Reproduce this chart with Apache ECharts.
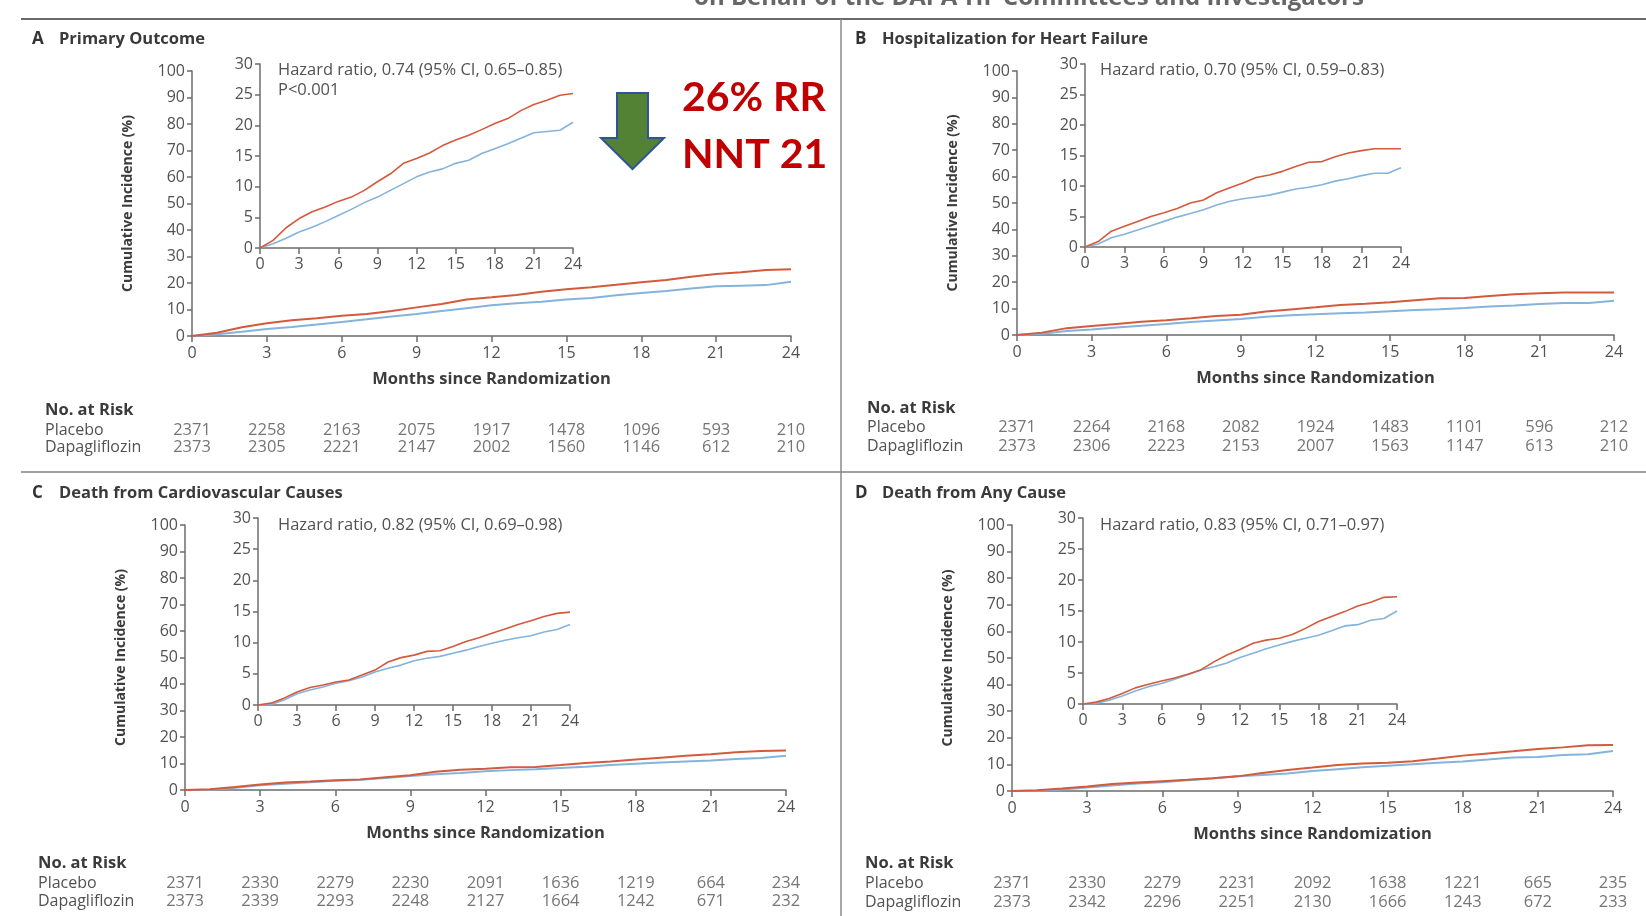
<!DOCTYPE html>
<html>
<head>
<meta charset="utf-8">
<script src="https://cdn.jsdelivr.net/npm/echarts@6/dist/echarts.min.js"></script>
<style>
  html, body { margin: 0; padding: 0; background: #ffffff; }
  #chart { width: 1646px; height: 916px; }
</style>
</head>
<body>
<div id="chart"></div>
<script>
// ---- Data ---------------------------------------------------------------
const months = [0,1,2,3,4,5,6,7,8,9,10,11,12,13,14,15,16,17,18,19,20,21,22,23,24];

// Cumulative incidence (%) by month
const placeboA = [0,1.25,3.3,4.8,5.9,6.7,7.6,8.3,9.4,10.8,12.1,13.8,14.6,15.5,16.7,17.6,18.4,19.3,20.3,21.1,22.4,23.4,24.1,24.9,25.2];
const dapaA    = [0,0.7,1.6,2.6,3.4,4.3,5.3,6.3,7.4,8.3,9.4,10.5,11.6,12.4,12.9,13.8,14.3,15.4,16.2,17.0,17.9,18.8,19.0,19.2,20.5];
const placeboB = [0,0.9,2.6,3.4,4.2,5.0,5.6,6.3,7.2,7.7,8.9,9.7,10.5,11.4,11.8,12.4,13.2,13.9,14.0,14.8,15.4,15.8,16.1,16.1,16.1];
const dapaB    = [0,0.5,1.5,2.1,2.8,3.5,4.2,4.9,5.5,6.1,6.9,7.5,7.9,8.2,8.5,9.0,9.5,9.8,10.2,10.8,11.2,11.7,12.1,12.1,13.0];
const placeboC = [0,0.3,1.1,2.1,2.8,3.2,3.7,4.0,4.8,5.6,6.9,7.6,8.0,8.6,8.7,9.4,10.2,10.8,11.5,12.2,12.9,13.5,14.2,14.7,14.9];
const dapaC    = [0,0.1,0.8,1.8,2.4,2.9,3.5,3.9,4.5,5.3,5.9,6.4,7.1,7.5,7.8,8.3,8.8,9.4,9.9,10.4,10.8,11.1,11.7,12.1,12.9];
const placeboD = [0,0.3,0.9,1.7,2.6,3.2,3.7,4.2,4.8,5.5,6.8,7.9,8.8,9.8,10.3,10.6,11.2,12.2,13.3,14.1,14.9,15.8,16.4,17.2,17.3];
const dapaD    = [0,0.1,0.6,1.3,2.1,2.8,3.3,4.0,4.7,5.5,6.0,6.6,7.5,8.2,8.9,9.5,10.1,10.6,11.1,11.8,12.6,12.8,13.5,13.8,15.0];

// Number at risk, every 3 months
const riskMonths = [0,3,6,9,12,15,18,21,24];
const riskPlaceboA = [2371,2258,2163,2075,1917,1478,1096,593,210];
const riskDapaA    = [2373,2305,2221,2147,2002,1560,1146,612,210];
const riskPlaceboB = [2371,2264,2168,2082,1924,1483,1101,596,212];
const riskDapaB    = [2373,2306,2223,2153,2007,1563,1147,613,210];
const riskPlaceboC = [2371,2330,2279,2230,2091,1636,1219,664,234];
const riskDapaC    = [2373,2339,2293,2248,2127,1664,1242,671,232];
const riskPlaceboD = [2371,2330,2279,2231,2092,1638,1221,665,235];
const riskDapaD    = [2373,2342,2296,2251,2130,1666,1243,672,233];

const groups = ['Placebo', 'Dapagliflozin'];
const letters = ['A', 'B', 'C', 'D'];
const titles = ['Primary Outcome', 'Hospitalization for Heart Failure',
                'Death from Cardiovascular Causes', 'Death from Any Cause'];
const hrTexts = [
  'Hazard ratio, 0.74 (95% CI, 0.65\u20130.85)\nP<0.001',
  'Hazard ratio, 0.70 (95% CI, 0.59\u20130.83)',
  'Hazard ratio, 0.82 (95% CI, 0.69\u20130.98)',
  'Hazard ratio, 0.83 (95% CI, 0.71\u20130.97)'
];
const headerText = 'on Behalf of the DAPA-HF Committees and Investigators';
const callout = ['26% RR', 'NNT 21'];

const placeboSeries = [placeboA, placeboB, placeboC, placeboD];
const dapaSeries = [dapaA, dapaB, dapaC, dapaD];
const riskPlacebo = [riskPlaceboA, riskPlaceboB, riskPlaceboC, riskPlaceboD];
const riskDapa = [riskDapaA, riskDapaB, riskDapaC, riskDapaD];

// ---- Layout ---------------------------------------------------------------
const layout = [
  { main: {left: 192, top: 71, width: 599, height: 265},
    inset: {left: 260, top: 64, width: 313, height: 184},
    risk: {top: 421.5, height: 34}, rowLabelX: 45,
    letterX: 32, titleX: 59, headY: 39, noRiskY: 410, hrX: 278, hrY: 70 },
  { main: {left: 1017, top: 71, width: 597, height: 264},
    inset: {left: 1085, top: 64, width: 316, height: 183},
    risk: {top: 417.5, height: 38}, rowLabelX: 867,
    letterX: 855, titleX: 882, headY: 39, noRiskY: 408, hrX: 1100, hrY: 70 },
  { main: {left: 185, top: 525, width: 601, height: 265},
    inset: {left: 258, top: 518, width: 312, height: 187},
    risk: {top: 874, height: 36}, rowLabelX: 38,
    letterX: 32, titleX: 59, headY: 493, noRiskY: 863, hrX: 278, hrY: 525 },
  { main: {left: 1012, top: 525, width: 601, height: 266},
    inset: {left: 1083, top: 518, width: 314, height: 186},
    risk: {top: 873.5, height: 38}, rowLabelX: 865,
    letterX: 855, titleX: 882, headY: 493, noRiskY: 863, hrX: 1100, hrY: 525 }
];

const FONT = "'Open Sans', 'DejaVu Sans', sans-serif";
const AXIS_COLOR = '#6c6c6c';
const TEXT_COLOR = '#525252';
const DARK_TEXT = '#3c3c3c';
const RED = '#d35a3c';
const BLUE = '#84b3dc';

const grids = [], xAxes = [], yAxes = [], series = [], graphics = [];

function axisCommon(fontSize) {
  return {
    axisLine: { show: true, onZero: false, lineStyle: { color: AXIS_COLOR, width: 1.5 } },
    axisTick: { show: true, inside: false, length: 5, lineStyle: { color: AXIS_COLOR, width: 1.5 } },
    splitLine: { show: false },
    axisLabel: { color: TEXT_COLOR, fontSize: fontSize, fontFamily: FONT }
  };
}

layout.forEach((L, p) => {
  const gMain = grids.length;
  grids.push(Object.assign({}, L.main));
  grids.push(Object.assign({}, L.inset));
  grids.push({ left: L.main.left, width: L.main.width, top: L.risk.top, height: L.risk.height });

  // main axes
  xAxes.push(Object.assign(axisCommon(16), {
    gridIndex: gMain, type: 'value', min: 0, max: 24, interval: 3,
    name: 'Months since Randomization', nameLocation: 'middle', nameGap: 35,
    nameTextStyle: { color: DARK_TEXT, fontSize: 16.5, fontWeight: 'bold', fontFamily: FONT }
  }));
  xAxes[xAxes.length - 1].axisTick.length = 6;
  xAxes[xAxes.length - 1].axisLabel.margin = 9;
  yAxes.push(Object.assign(axisCommon(16), {
    gridIndex: gMain, type: 'value', min: 0, max: 100, interval: 10,
    name: 'Cumulative Incidence (%)', nameLocation: 'middle', nameGap: 57,
    nameTextStyle: { color: DARK_TEXT, fontSize: 14, fontWeight: 'bold', fontFamily: FONT }
  }));
  yAxes[yAxes.length - 1].axisLabel.margin = 7;

  // inset axes
  xAxes.push(Object.assign(axisCommon(16), {
    gridIndex: gMain + 1, type: 'value', min: 0, max: 24, interval: 3
  }));
  xAxes[xAxes.length - 1].axisTick.length = 6;
  xAxes[xAxes.length - 1].axisLabel.margin = 8;
  yAxes.push(Object.assign(axisCommon(16), {
    gridIndex: gMain + 1, type: 'value', min: 0, max: 30, interval: 5
  }));
  yAxes[yAxes.length - 1].axisLabel.margin = 7;

  // at-risk table axes
  xAxes.push({ gridIndex: gMain + 2, type: 'value', min: 0, max: 24, show: false });
  yAxes.push({
    gridIndex: gMain + 2, type: 'category', data: groups, inverse: true,
    axisLine: { show: false }, axisTick: { show: false }, splitLine: { show: false },
    axisLabel: { interval: 0, align: 'left', margin: L.main.left - L.rowLabelX, color: TEXT_COLOR,
                 fontSize: 16, fontFamily: FONT, hideOverlap: false }
  });

  const lineSeries = (axisIdx, name, values, color, width) => ({
    type: 'line', name: name, xAxisIndex: axisIdx, yAxisIndex: axisIdx,
    data: months.map((m, i) => [m, values[i]]),
    showSymbol: false, symbol: 'none', smooth: false, silent: true,
    lineStyle: { color: color, width: width }, clip: false
  });
  // main curves
  series.push(lineSeries(gMain, groups[1], dapaSeries[p], BLUE, 2));
  series.push(lineSeries(gMain, groups[0], placeboSeries[p], RED, 2));
  // inset curves
  series.push(lineSeries(gMain + 1, groups[1], dapaSeries[p], BLUE, 1.6));
  series.push(lineSeries(gMain + 1, groups[0], placeboSeries[p], RED, 1.6));

  // number at risk
  const riskData = [];
  riskMonths.forEach((m, i) => {
    riskData.push([m, groups[0], riskPlacebo[p][i]]);
    riskData.push([m, groups[1], riskDapa[p][i]]);
  });
  series.push({
    type: 'scatter', xAxisIndex: gMain + 2, yAxisIndex: gMain + 2, silent: true,
    symbolSize: 1, itemStyle: { color: 'rgba(0,0,0,0)' },
    data: riskData,
    label: { show: true, position: 'inside', formatter: (d) => String(d.value[2]),
             color: TEXT_COLOR, fontSize: 16.5, fontFamily: FONT }
  });

  // panel headings and annotations
  graphics.push({ type: 'text', x: L.letterX, y: L.headY, style: {
    text: letters[p], fill: '#333', font: "bold 17px " + FONT, verticalAlign: 'middle' } });
  graphics.push({ type: 'text', x: L.titleX, y: L.headY, style: {
    text: titles[p], fill: '#3a3a3a', font: "bold 16.5px " + FONT, verticalAlign: 'middle' } });
  graphics.push({ type: 'text', x: L.rowLabelX, y: L.noRiskY, style: {
    text: 'No. at Risk', fill: '#3a3a3a', font: "bold 16.5px " + FONT, verticalAlign: 'middle' } });
  graphics.push({ type: 'text', x: L.hrX, y: L.hrY - 10, style: {
    text: hrTexts[p], fill: TEXT_COLOR, font: "16.5px " + FONT, lineHeight: 20, verticalAlign: 'top' } });
});

// frame lines
graphics.push({ type: 'line', shape: {x1: 21, y1: 19, x2: 1646, y2: 19},
                style: { stroke: '#6a6a6a', lineWidth: 2 } });
graphics.push({ type: 'line', shape: {x1: 21, y1: 472, x2: 1646, y2: 472},
                style: { stroke: '#a0a0a0', lineWidth: 2 } });
graphics.push({ type: 'line', shape: {x1: 841, y1: 19, x2: 841, y2: 916},
                style: { stroke: '#8a8a8a', lineWidth: 1.5 } });

// header text, partly above the page edge
graphics.push({ type: 'text', x: 1029, y: 10, style: {
  text: headerText, fill: '#666', font: "bold 24px " + FONT, align: 'center', verticalAlign: 'bottom' } });

// down arrow and callout
graphics.push({ type: 'polygon', shape: { points: [[617,93],[648,93],[648,138],[664,138],[632.5,169],[601,138],[617,138]] },
                style: { fill: '#548235', stroke: '#2f5597', lineWidth: 2 } });
graphics.push({ type: 'text', x: 682, y: 98, style: {
  text: callout[0], fill: '#c00000', font: "bold 41px Lato, 'Open Sans', sans-serif", verticalAlign: 'middle' } });
graphics.push({ type: 'text', x: 682, y: 155, style: {
  text: callout[1], fill: '#c00000', font: "bold 41px Lato, 'Open Sans', sans-serif", verticalAlign: 'middle' } });

const chart = echarts.init(document.getElementById('chart'));
chart.setOption({
  backgroundColor: '#ffffff',
  animation: false,
  textStyle: { fontFamily: FONT },
  grid: grids,
  xAxis: xAxes,
  yAxis: yAxes,
  series: series,
  graphic: { elements: graphics }
});
</script>
</body>
</html>
